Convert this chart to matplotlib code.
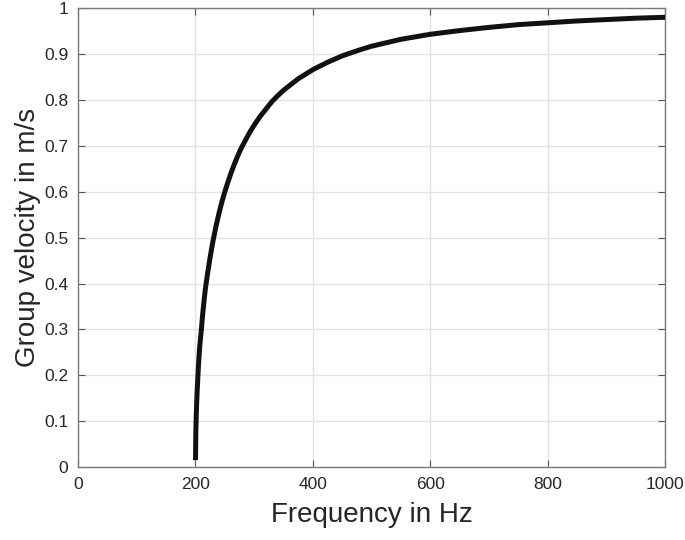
import matplotlib.pyplot as plt

# Group velocity (frequency in Hz, velocity in m/s)
freq = [200, 200.5, 201, 202, 203, 205, 207, 210, 212, 215, 217, 220, 225,
        230, 235, 240, 245, 250, 255, 260, 265, 270, 275, 280, 285, 290,
        295, 300, 310, 315, 325, 330, 340, 350, 360, 375, 390, 400, 425,
        450, 475, 500, 550, 600, 650, 700, 750, 800, 850, 900, 950, 1000]
vel = [0.015, 0.07, 0.10, 0.14, 0.17, 0.22, 0.26, 0.30, 0.33, 0.368, 0.39,
       0.417, 0.458, 0.494, 0.525, 0.553, 0.578, 0.60, 0.62, 0.639, 0.656,
       0.672, 0.687, 0.70, 0.712, 0.724, 0.735, 0.745, 0.764, 0.772, 0.788,
       0.796, 0.809, 0.821, 0.831, 0.846, 0.858, 0.866, 0.882, 0.896, 0.907,
       0.917, 0.932, 0.943, 0.951, 0.958, 0.964, 0.968, 0.972, 0.975, 0.978,
       0.98]

xticks = [0, 200, 400, 600, 800, 1000]
yticks = [0, 0.1, 0.2, 0.3, 0.4, 0.5, 0.6, 0.7, 0.8, 0.9, 1]
ytick_labels = ['0', '0.1', '0.2', '0.3', '0.4', '0.5', '0.6', '0.7', '0.8', '0.9', '1']

plt.rcParams['font.family'] = ['Liberation Sans', 'DejaVu Sans']

fig = plt.figure(figsize=(6.85, 5.4), dpi=100)
ax = fig.add_axes([0.114, 0.135, 0.857, 0.850])

ax.plot(freq, vel, color='#111111', lw=3.6, solid_capstyle='butt',
        solid_joinstyle='round', zorder=3)

ax.set_xlim(0, 1000)
ax.set_ylim(0, 1)
ax.set_xticks(xticks)
ax.set_yticks(yticks)
ax.set_yticklabels(ytick_labels)

ax.grid(True, color='#e3e3e3', lw=1.0)
ax.set_axisbelow(True)

axis_gray = '#262626'
for s in ax.spines.values():
    s.set_color('#7a7a7a')
    s.set_linewidth(1.0)
ax.tick_params(direction='in', length=5, width=0.8, color='#555555',
               labelcolor=axis_gray, labelsize=12.5, top=True, right=True,
               pad=7)

ax.set_xlabel('Frequency in Hz', fontsize=20, color=axis_gray, labelpad=7)
ax.set_ylabel('Group velocity in m/s', fontsize=20, color=axis_gray, labelpad=2)

fig.savefig('out.png', dpi=100)
